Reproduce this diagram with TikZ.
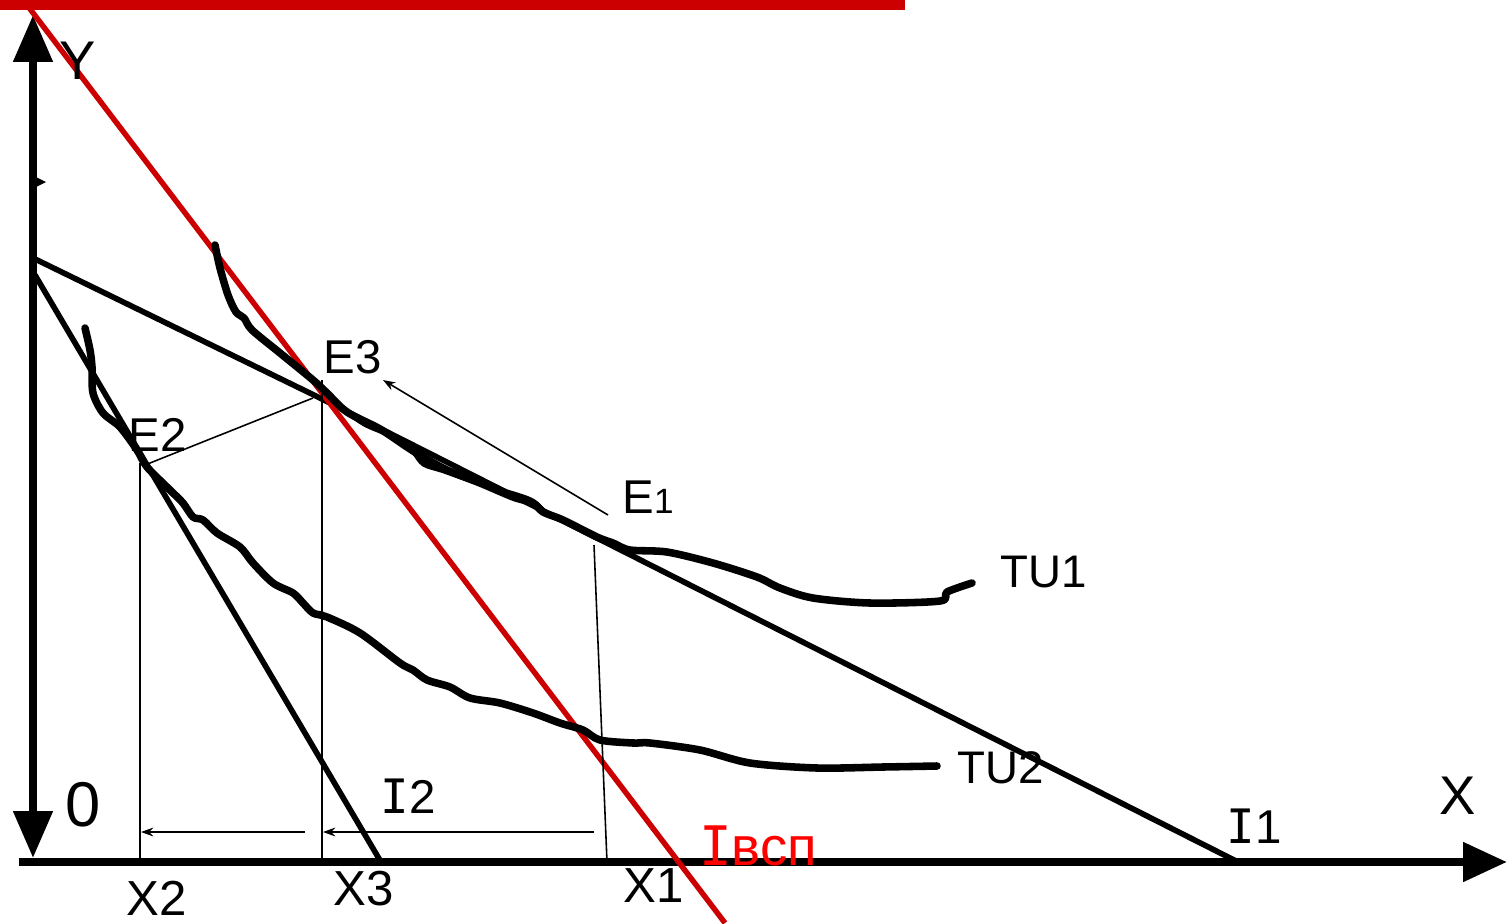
\documentclass[tikz,border=0pt]{standalone}
\usepackage{fontspec}
\setmainfont{Liberation Sans}
\newfontfamily\serifI{DejaVu Sans Mono}
\usetikzlibrary{arrows.meta}
\definecolor{darkred}{RGB}{204,0,0}
\definecolor{brightred}{RGB}{255,0,0}
\tikzset{
  axisline/.style={line width=4.6pt},
  budget/.style={line width=3.2pt},
  redbudget/.style={line width=3.1pt, draw=darkred},
  curve/.style={line width=4.3pt, line join=round, line cap=round},
  thin/.style={line width=0.9pt},
  lbl/.style={inner sep=0pt, font=\fontsize{26}{30}\selectfont},
  axistip/.tip={Triangle[length=0.94cm,width=0.76cm]},
  xtip/.tip={Triangle[length=0.88cm,width=0.76cm]},
  smalltip/.tip={Stealth[length=7pt,width=5pt]}
}
\begin{document}
\begin{tikzpicture}[x=0.02cm,y=-0.02cm]
\useasboundingbox (0,0) rectangle (1507,923);
% top red bar
\fill[darkred] (0,0) rectangle (905,10);
% key points
\coordinate (ytop) at (33,15);
\coordinate (ybot) at (33,858);
\coordinate (xl) at (19,862);
\coordinate (xr) at (1507,862);
\coordinate (A1) at (35,259);
\coordinate (A2) at (35,275);
\coordinate (E3p) at (320,398);
\coordinate (E2p) at (145,465);
\coordinate (I1p) at (1238,862);
\coordinate (I2p) at (381,862);
\coordinate (R1) at (27,5);
\coordinate (R2) at (725,923);
% axes
\draw[axisline, axistip-axistip] (ytop) -- (ybot);
\draw[axisline, -xtip] (xl) -- (xr);
\fill (36,177) -- (46,182) -- (36,187) -- cycle;
% budget lines
\draw[budget] (A1) -- (E3p) -- (I1p);
\draw[budget] (A2) -- (I2p);
\draw[redbudget] (R1) -- (R2);
% thin construction lines
\coordinate (x2t) at (140,463);
\coordinate (x2b) at (140,862);
\coordinate (x3t) at (322,380);
\coordinate (x3b) at (322,862);
\coordinate (x1t) at (594,545);
\coordinate (x1b) at (607,862);
\draw[thin] (x2t) -- (x2b);
\draw[thin] (x3t) -- (x3b);
\draw[thin] (x1t) -- (x1b);
\draw[thin] (E2p) -- (313,398);
\coordinate (e1s) at (608,515);
\coordinate (e3e) at (383,380);
\draw[thin, -smalltip] (e1s) -- (e3e);
\coordinate (h1s) at (305,832);
\coordinate (h1e) at (141,832);
\coordinate (h2s) at (594,832);
\coordinate (h2e) at (323,832);
\draw[thin, -smalltip] (h1s) -- (h1e);
\draw[thin, -smalltip] (h2s) -- (h2e);
% indifference curves
\draw[curve] plot[smooth, tension=0.5] coordinates {(215,245) (220,268) (228,295) (236,312) (244,318) (252,330) (280,353) (313,380) (327,393) (347,412) (380,429) (407,447) (423,457) (447,470) (480,483) (513,497) (533,503) (543,512) (563,520) (597,537) (613,543) (630,550) (667,552) (713,563) (757,577) (780,588) (813,598) (870,603) (940,601) (947,592) (972,583)};
\draw[curve, line width=3.2pt] plot[smooth, tension=0.5] coordinates {(340,406) (365,424) (400,439) (414,452) (424,464) (445,471) (490,487) (530,500) (545,513)};
\draw[curve] plot[smooth, tension=0.5] coordinates {(85,328) (90,350) (92,367) (93,393) (103,413) (120,427) (137,450) (147,467) (170,490) (183,503) (193,517) (203,520) (217,533) (240,547) (253,563) (273,583) (293,593) (303,603) (313,613) (327,617) (360,633) (400,663) (413,670) (427,680) (450,687) (470,698) (500,703) (533,713) (560,723) (583,730) (600,740) (633,743) (650,743) (700,750) (750,763) (817,768) (883,767) (937,766)};
% labels
\node[lbl, font=\fontsize{31}{34}\selectfont] (Ylab) at (78,61) {Y};
\node[lbl, font=\fontsize{27}{30}\selectfont] (E3lab) at (353,357) {E3};
\node[lbl, font=\fontsize{27}{30}\selectfont] (E2lab) at (158,435) {E2};
\node[lbl, font=\fontsize{27}{30}\selectfont] (E1lab) at (648,497) {E{\fontsize{20}{22}\selectfont 1}};
\node[lbl] (TU1lab) at (1044,572) {TU1};
\node[lbl] (TU2lab) at (1001,768) {TU2};
\node[lbl, font=\fontsize{36}{40}\selectfont] (Olab) at (83,805) {0};
\node[lbl, font=\fontsize{27}{30}\selectfont] (I2lab) at (408,796) {{\serifI I}2};
\node[lbl, font=\fontsize{27}{30}\selectfont] (I1lab) at (1254,826) {{\serifI I}1};
\node[lbl, font=\fontsize{31}{34}\selectfont] (Xlab) at (1458,796) {X};
\node[lbl, font=\fontsize{31}{34}\selectfont, text=brightred] (Ivsp) at (758,846) {{\serifI I}всп};
\node[lbl, font=\fontsize{28}{30}\selectfont] (X2lab) at (157,898) {X2};
\node[lbl, font=\fontsize{28}{30}\selectfont] (X3lab) at (364,889) {X3};
\node[lbl, font=\fontsize{28}{30}\selectfont] (X1lab) at (654,886) {X1};
\end{tikzpicture}
\end{document}
